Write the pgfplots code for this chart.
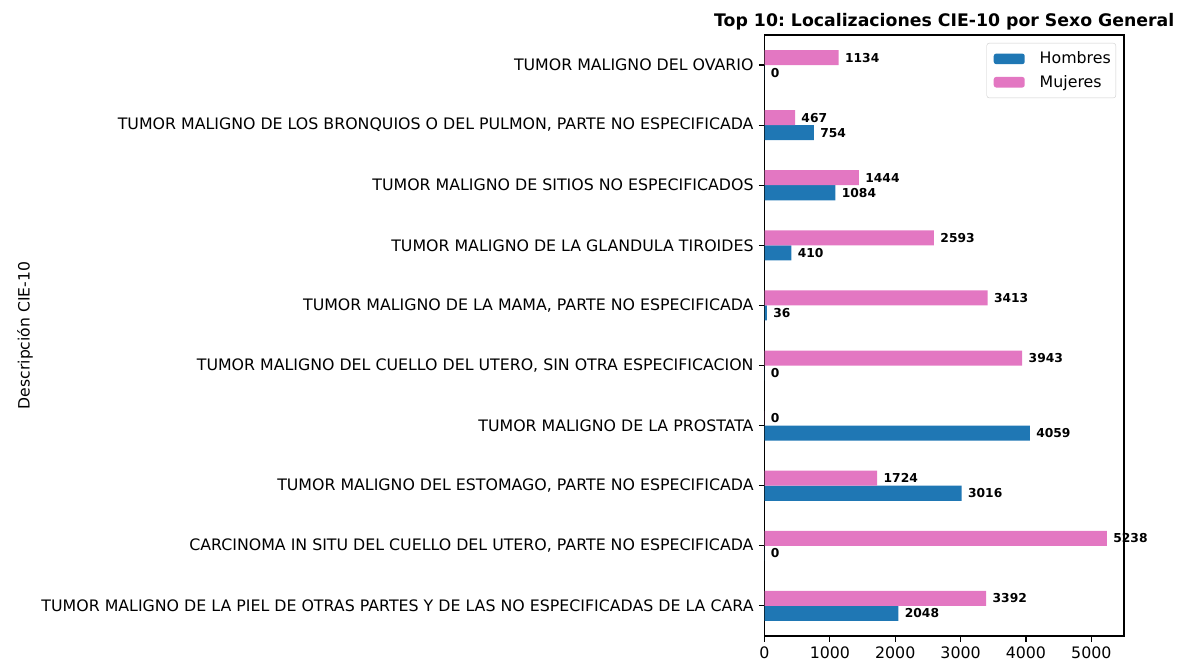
\documentclass[border=0pt]{standalone}
\usepackage{fontspec}
\setmainfont{DejaVu Sans}
\usepackage{pgfplots}
\pgfplotsset{compat=1.18}
\definecolor{hom}{HTML}{1F77B4}
\definecolor{muj}{HTML}{E377C2}
\begin{document}
\frenchspacing
\fontsize{15.8bp}{18bp}\selectfont
\begin{tikzpicture}
\useasboundingbox (0,0) rectangle (1182bp,660bp);
\begin{axis}[
  at={(764.5bp,24bp)}, anchor=south west,
  scale only axis, width=359.5bp, height=601bp,
  xmin=0, xmax=5500, ymin=-0.5, ymax=9.5,
  xtick={0,1000,2000,3000,4000,5000},
  ytick={0,1,2,3,4,5,6,7,8,9},
  yticklabels={
    {TUMOR MALIGNO DE LA PIEL DE OTRAS PARTES Y DE LAS NO ESPECIFICADAS DE LA CARA},
    {CARCINOMA IN SITU DEL CUELLO DEL UTERO, PARTE NO ESPECIFICADA},
    {TUMOR MALIGNO DEL ESTOMAGO, PARTE NO ESPECIFICADA},
    {TUMOR MALIGNO DE LA PROSTATA},
    {TUMOR MALIGNO DEL CUELLO DEL UTERO, SIN OTRA ESPECIFICACION},
    {TUMOR MALIGNO DE LA MAMA, PARTE NO ESPECIFICADA},
    {TUMOR MALIGNO DE LA GLANDULA TIROIDES},
    {TUMOR MALIGNO DE SITIOS NO ESPECIFICADOS},
    {TUMOR MALIGNO DE LOS BRONQUIOS O DEL PULMON, PARTE NO ESPECIFICADA},
    {TUMOR MALIGNO DEL OVARIO}},
  /pgf/number format/assume math mode=true,
  /pgf/number format/1000 sep={},
  tick align=outside, xtick pos=left, ytick pos=left,
  major tick length=5.5bp,
  tick style={black, line width=1.1bp},
  axis line style={black, line width=1.1bp},
  ticklabel style={font=\fontsize{15.8bp}{18bp}\selectfont},
  ylabel={Descripción CIE-10},
  ylabel style={at={(axis description cs:-2.057,0.5)}, anchor=center, font=\fontsize{15.6bp}{18bp}\selectfont},
  title={Top 10: Localizaciones CIE-10 por Sexo General},
  every axis title/.style={at={(axis description cs:0.5,1)}, anchor=base, yshift=8.3bp, font=\bfseries\fontsize{17.3bp}{21bp}\selectfont},
  xbar, bar width=0.25,
  nodes near coords={\pgfmathprintnumber[fixed,precision=0,1000 sep={},assume math mode=true]{\pgfplotspointmeta}},
  point meta=x,
  every node near coord/.append style={font=\bfseries\fontsize{12.3bp}{14bp}\selectfont, black, anchor=west, xshift=1bp},
  legend cell align=left,
  legend style={at={(axis description cs:1,1)}, anchor=north east, xshift=-8bp, yshift=-8bp,
    draw=black!20, rounded corners=2.5bp, font=\fontsize{15.8bp}{18bp}\selectfont,
    inner xsep=3bp, inner ysep=6.5bp, row sep=5bp, column sep=13bp},
  legend image code/.code={\path (0bp,0bp); \fill[#1] (4bp,-5.3bp) rectangle (35bp,5.3bp);},
]
\addplot[fill=hom, draw=none, bar shift=-0.125] coordinates {
  (2048,0) (0,1) (3016,2) (4059,3) (0,4) (36,5) (410,6) (1084,7) (754,8) (0,9)};
\addlegendentry{Hombres}
\addplot[fill=muj, draw=none, bar shift=0.125] coordinates {
  (3392,0) (5238,1) (1724,2) (0,3) (3943,4) (3413,5) (2593,6) (1444,7) (467,8) (1134,9)};
\addlegendentry{Mujeres}
\end{axis}
\end{tikzpicture}
\end{document}
